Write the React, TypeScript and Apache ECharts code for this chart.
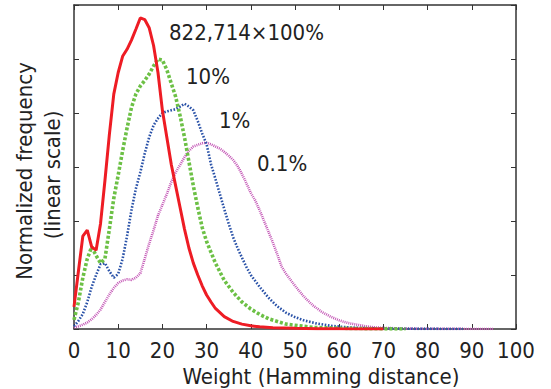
import React, { useEffect, useRef } from "react";
import * as echarts from "echarts";

const xTicks = [0, 10, 20, 30, 40, 50, 60, 70, 80, 90, 100];
const annotations = ["822,714×100%", "10%", "1%", "0.1%"];
const xTitle = "Weight (Hamming distance)";
const yTitle = ["Normalized frequency", "(linear scale)"];

const redX = [0,1,2,3,4,5,6,7,8,9,10,11,12,13,14,15,16,17,18,19,20,21,22,23,24,25,26,27,28,29,30,31,32,34,36,38,40,42,45,50,55,60,65,70];
const redY = [0.41,1.07,1.72,1.83,1.52,1.46,1.95,2.75,3.6,4.35,4.75,5.05,5.18,5.35,5.55,5.76,5.73,5.58,5.25,4.75,4.05,3.55,3.05,2.65,2.25,1.85,1.5,1.22,1.0,0.8,0.63,0.5,0.38,0.23,0.14,0.09,0.06,0.04,0.025,0.012,0.006,0.003,0.001,0];

const greenX = [0,1,2,3,4,5,6,7,8,9,10,11,12,13,14,15,16,17,18,19,20,21,22,23,24,25,26,27,28,29,30,31,32,34,36,38,40,42,44,46,48,50,54,60,65,70,75];
const greenY = [0.17,0.5,0.95,1.3,1.52,1.36,1.22,1.3,1.85,2.42,2.85,3.3,3.72,4.1,4.35,4.5,4.6,4.72,4.87,5.0,4.98,4.8,4.55,4.3,3.95,3.55,3.1,2.65,2.25,1.88,1.62,1.42,1.22,0.9,0.68,0.5,0.37,0.27,0.19,0.14,0.09,0.07,0.03,0.015,0.008,0.003,0];

const blueX = [0,1,2,3,4,5,6,7,8,9,10,11,12,13,14,15,16,17,18,19,20,21,22,23,24,25,26,27,28,29,30,31,32,33,34,35,36,37,38,39,40,42,44,46,48,50,52,55,58,62,66,70,75,80,88];
const blueY = [0.05,0.15,0.28,0.5,0.78,1.0,1.2,1.22,1.07,0.95,1.02,1.3,1.72,2.2,2.6,2.9,3.25,3.55,3.77,3.9,4.0,4.03,4.05,4.07,4.12,4.17,4.12,4.05,3.85,3.62,3.42,3.05,2.78,2.5,2.22,1.95,1.7,1.5,1.32,1.15,1.0,0.78,0.58,0.42,0.3,0.22,0.16,0.1,0.06,0.03,0.015,0.008,0.004,0.002,0];

const magX = [0,1,2,3,4,5,6,7,8,9,10,11,12,13,14,15,16,17,18,19,20,21,22,23,24,25,26,27,28,29,30,31,32,33,34,35,36,37,38,39,40,41,42,43,44,45,46,47,48,50,52,54,56,58,60,62,64,66,68,70,75,80,85,90,95];
const magY = [0.03,0.05,0.08,0.12,0.18,0.26,0.36,0.5,0.64,0.76,0.85,0.9,0.92,0.91,0.95,1.03,1.3,1.58,1.83,2.1,2.3,2.5,2.72,2.9,3.04,3.18,3.3,3.38,3.41,3.44,3.45,3.42,3.38,3.34,3.28,3.21,3.13,3.02,2.87,2.7,2.52,2.38,2.2,2.0,1.8,1.6,1.38,1.15,1.02,0.8,0.6,0.44,0.32,0.23,0.16,0.11,0.08,0.05,0.03,0.02,0.008,0.004,0.002,0.001,0];

const pairs = (xs: number[], ys: number[]) => xs.map((x, i) => [x, ys[i]]);

const FONT = "DejaVu Sans Condensed";
const AXIS = "#333333";
const TXT = "#222222";
const FS = 22;

export default function App() {
  const ref = useRef<HTMLDivElement>(null);
  useEffect(() => {
    if (!ref.current) return;
    const chart = echarts.init(ref.current, null, { renderer: "svg" });
    const axisCommon = {
      axisLine: { show: true, onZero: false, lineStyle: { color: AXIS, width: 1.5 } },
      axisTick: { show: true, inside: true, length: 5, lineStyle: { color: AXIS, width: 1 } },
      splitLine: { show: false },
    };
    const txt = (text: string, left: number, top: number) => ({
      type: "text", left, top, style: { text, fontFamily: FONT, fontSize: FS, fill: TXT },
    });
    chart.setOption({
      animation: false,
      backgroundColor: "#ffffff",
      grid: { left: 74, right: 35, top: 5, bottom: 60, containLabel: false },
      xAxis: [
        {
          type: "value", min: 0, max: 100, interval: 10, position: "bottom",
          ...axisCommon,
          axisLabel: {
            show: true, color: TXT, fontFamily: FONT, fontSize: FS, margin: 10,
            formatter: (v: number) => (xTicks.includes(v) ? String(v) : ""),
          },
        },
        {
          type: "value", min: 0, max: 100, interval: 10, position: "top",
          ...axisCommon, axisLabel: { show: false },
        },
      ],
      yAxis: [
        { type: "value", min: 0, max: 6, interval: 1, position: "left", ...axisCommon, axisLabel: { show: false } },
        { type: "value", min: 0, max: 6, interval: 1, position: "right", ...axisCommon, axisLabel: { show: false } },
      ],
      series: [
        {
          type: "line", data: pairs(magX, magY), showSymbol: false, symbol: "none",
          lineStyle: { color: "#c458b6", width: 2.6, type: [1, 1] },
        },
        {
          type: "line", data: pairs(blueX, blueY), showSymbol: false, symbol: "none",
          lineStyle: { color: "#2a52a8", width: 2.6, type: [1.6, 1.6] },
        },
        {
          type: "line", data: pairs(greenX, greenY), showSymbol: false, symbol: "none",
          lineStyle: { color: "#6cc045", width: 3.6, type: [3, 2] },
        },
        {
          type: "line", data: pairs(redX, redY), showSymbol: false, symbol: "none",
          lineStyle: { color: "#ee1c24", width: 3 },
        },
      ],
      graphic: [
        txt(annotations[0], 169, 21),
        txt(annotations[1], 186, 65),
        txt(annotations[2], 219, 109),
        txt(annotations[3], 257, 152),
        {
          type: "text", x: 321, y: 376,
          style: { text: xTitle, fontFamily: FONT, fontSize: FS, fill: TXT, align: "center", verticalAlign: "middle" },
        },
        {
          type: "text", x: 24, y: 171, rotation: Math.PI / 2,
          style: { text: yTitle[0], fontFamily: FONT, fontSize: FS, fill: TXT, align: "center", verticalAlign: "middle" },
        },
        {
          type: "text", x: 52, y: 175, rotation: Math.PI / 2,
          style: { text: yTitle[1], fontFamily: FONT, fontSize: FS, fill: TXT, align: "center", verticalAlign: "middle" },
        },
      ],
    });
    return () => chart.dispose();
  }, []);
  return (
    <div
      ref={ref}
      style={{ position: "fixed", left: 0, top: 0, width: 551, height: 389, background: "#fff" }}
    />
  );
}
